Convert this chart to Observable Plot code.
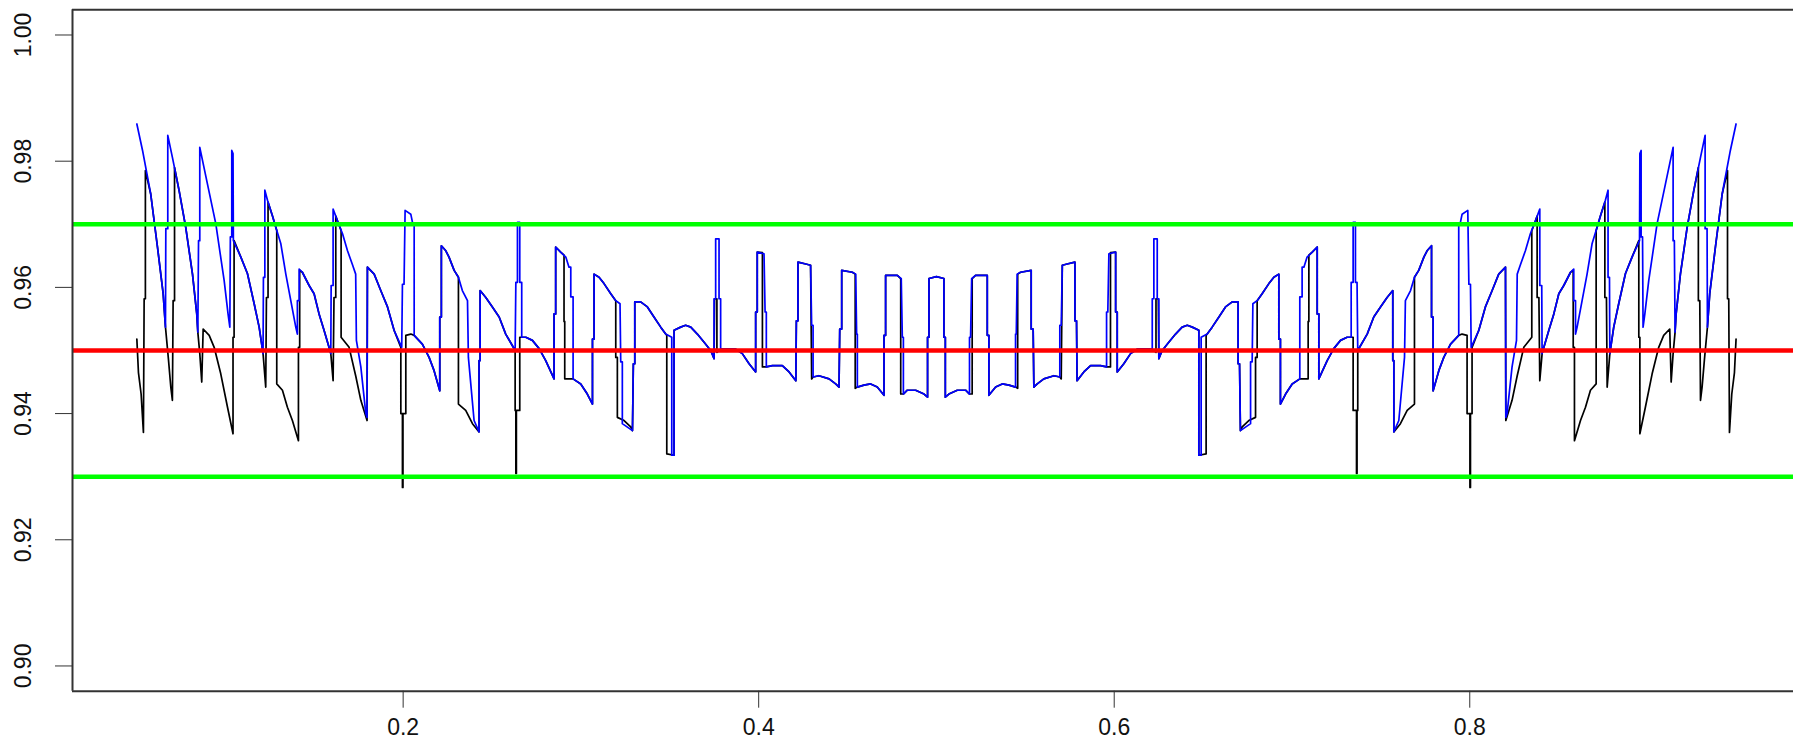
<!DOCTYPE html>
<html><head><meta charset="utf-8">
<script src="https://cdn.jsdelivr.net/npm/d3@7"></script>
<script src="https://cdn.jsdelivr.net/npm/@observablehq/plot@0.6"></script>
<style>html,body{margin:0;padding:0;background:#fff;overflow:hidden}</style>
</head><body><div id="chart"></div>
<script>
// blue series: probability p and coverage value
const blueP = [
0.0502,0.0534,0.0580,0.0618,0.0650,0.0663,0.0665,0.0676,0.0676,0.0702,
0.0740,0.0777,0.0815,0.0839,0.0845,0.0849,0.0856,0.0856,0.0899,0.0946,
0.0993,0.1015,0.1025,0.1028,0.1036,0.1036,0.1043,0.1045,0.1087,0.1124,
0.1162,0.1190,0.1212,0.1214,0.1222,0.1222,0.1237,0.1265,0.1284,0.1312,
0.1340,0.1368,0.1396,0.1405,0.1405,0.1415,0.1415,0.1433,0.1471,0.1499,
0.1527,0.1555,0.1583,0.1593,0.1595,0.1606,0.1606,0.1630,0.1659,0.1687,
0.1715,0.1733,0.1737,0.1762,0.1790,0.1797,0.1799,0.1837,0.1874,0.1912,
0.1949,0.1992,0.1996,0.2005,0.2011,0.2043,0.2054,0.2062,0.2062,0.2108,
0.2146,0.2174,0.2206,0.2206,0.2215,0.2215,0.2240,0.2258,0.2287,0.2311,
0.2333,0.2362,0.2367,0.2399,0.2427,0.2427,0.2433,0.2433,0.2465,0.2502,
0.2540,0.2577,0.2630,0.2634,0.2643,0.2643,0.2656,0.2656,0.2667,0.2667,
0.2690,0.2727,0.2765,0.2802,0.2849,0.2849,0.2858,0.2858,0.2886,0.2915,
0.2933,0.2943,0.2943,0.2956,0.2956,0.2999,0.3036,0.3065,0.3065,0.3074,
0.3074,0.3102,0.3130,0.3168,0.3196,0.3220,0.3224,0.3233,0.3233,0.3290,
0.3295,0.3303,0.3303,0.3336,0.3374,0.3411,0.3449,0.3477,0.3511,0.3511,
0.3524,0.3524,0.3561,0.3589,0.3618,0.3655,0.3693,0.3730,0.3749,0.3749,
0.3758,0.3758,0.3777,0.3777,0.3786,0.3786,0.3871,0.3908,0.3946,0.3983,
0.3983,0.3992,0.3992,0.4030,0.4036,0.4043,0.4043,0.4077,0.4133,0.4171,
0.4209,0.4212,0.4221,0.4221,0.4265,0.4292,0.4298,0.4306,0.4306,0.4339,
0.4396,0.4433,0.4452,0.4456,0.4467,0.4467,0.4527,0.4546,0.4551,0.4555,
0.4555,0.4592,0.4630,0.4667,0.4705,0.4705,0.4714,0.4714,0.4780,0.4802,
0.4808,0.4814,0.4814,0.4836,0.4883,0.4930,0.4950,0.4950,0.4958,0.4958,
0.5000,
0.5042,0.5042,0.5050,0.5050,0.5070,0.5117,0.5164,0.5186,0.5186,0.5192,
0.5198,0.5220,0.5286,0.5286,0.5295,0.5295,0.5333,0.5370,0.5408,0.5445,
0.5445,0.5449,0.5454,0.5473,0.5533,0.5533,0.5544,0.5548,0.5567,0.5604,
0.5661,0.5694,0.5694,0.5702,0.5708,0.5735,0.5779,0.5779,0.5788,0.5791,
0.5829,0.5867,0.5923,0.5957,0.5957,0.5964,0.5970,0.6008,0.6008,0.6017,
0.6017,0.6054,0.6092,0.6129,0.6214,0.6214,0.6223,0.6223,0.6242,0.6242,
0.6251,0.6251,0.6270,0.6307,0.6345,0.6382,0.6411,0.6439,0.6476,0.6476,
0.6489,0.6489,0.6523,0.6551,0.6589,0.6626,0.6664,0.6697,0.6697,0.6705,
0.6710,0.6767,0.6767,0.6776,0.6780,0.6804,0.6832,0.6870,0.6898,0.6926,
0.6926,0.6935,0.6935,0.6964,0.7001,0.7044,0.7044,0.7057,0.7057,0.7067,
0.7085,0.7114,0.7142,0.7142,0.7151,0.7151,0.7198,0.7235,0.7273,0.7310,
0.7333,0.7333,0.7344,0.7344,0.7357,0.7357,0.7366,0.7370,0.7423,0.7460,
0.7498,0.7535,0.7567,0.7567,0.7573,0.7573,0.7601,0.7633,0.7638,0.7667,
0.7689,0.7713,0.7742,0.7760,0.7785,0.7785,0.7794,0.7794,0.7826,0.7854,
0.7892,0.7938,0.7938,0.7946,0.7957,0.7989,0.7995,0.8004,0.8008,0.8051,
0.8088,0.8126,0.8163,0.8201,0.8203,0.8210,0.8238,0.8263,0.8267,0.8285,
0.8313,0.8341,0.8370,0.8394,0.8394,0.8405,0.8407,0.8417,0.8445,0.8473,
0.8501,0.8529,0.8567,0.8585,0.8585,0.8595,0.8595,0.8604,0.8632,0.8660,
0.8688,0.8716,0.8735,0.8763,0.8778,0.8778,0.8786,0.8788,0.8810,0.8838,
0.8876,0.8913,0.8955,0.8957,0.8964,0.8964,0.8972,0.8975,0.8985,0.9007,
0.9054,0.9101,0.9144,0.9144,0.9151,0.9155,0.9161,0.9185,0.9223,0.9260,
0.9298,0.9324,0.9324,0.9335,0.9337,0.9350,0.9382,0.9420,0.9466,0.9498];
const blueV = [
0.9859,0.9817,0.9748,0.9664,0.9590,0.9537,0.9693,0.9693,0.9841,0.9806,
0.9753,0.9695,0.9621,0.9558,0.9529,0.9674,0.9674,0.9822,0.9764,0.9701,
0.9611,0.9558,0.9537,0.9680,0.9680,0.9817,0.9812,0.9674,0.9648,0.9622,
0.9574,0.9537,0.9495,0.9616,0.9616,0.9754,0.9738,0.9713,0.9695,0.9669,
0.9621,0.9579,0.9537,0.9526,0.9579,0.9579,0.9629,0.9624,0.9603,0.9590,
0.9558,0.9532,0.9505,0.9495,0.9603,0.9603,0.9724,0.9706,0.9685,0.9658,
0.9636,0.9621,0.9516,0.9474,0.9400,0.9394,0.9632,0.9621,0.9595,0.9569,
0.9532,0.9505,0.9605,0.9605,0.9722,0.9716,0.9701,0.9701,0.9524,0.9510,
0.9489,0.9468,0.9436,0.9553,0.9553,0.9666,0.9658,0.9648,0.9627,0.9616,
0.9595,0.9579,0.9489,0.9389,0.9371,0.9484,0.9484,0.9595,0.9584,0.9569,
0.9553,0.9526,0.9500,0.9608,0.9608,0.9703,0.9703,0.9608,0.9608,0.9521,
0.9521,0.9516,0.9503,0.9484,0.9455,0.9558,0.9558,0.9664,0.9656,0.9648,
0.9632,0.9632,0.9585,0.9585,0.9455,0.9447,0.9431,0.9415,0.9518,0.9518,
0.9621,0.9616,0.9606,0.9590,0.9579,0.9574,0.9482,0.9482,0.9384,0.9373,
0.9479,0.9479,0.9577,0.9577,0.9569,0.9553,0.9537,0.9526,0.9521,0.9334,
0.9334,0.9532,0.9537,0.9540,0.9537,0.9526,0.9513,0.9500,0.9487,0.9582,
0.9582,0.9677,0.9677,0.9582,0.9582,0.9502,0.9502,0.9495,0.9479,0.9466,
0.9561,0.9561,0.9656,0.9653,0.9561,0.9561,0.9474,0.9476,0.9476,0.9466,
0.9452,0.9547,0.9547,0.9640,0.9637,0.9635,0.9540,0.9540,0.9458,0.9460,
0.9455,0.9447,0.9442,0.9534,0.9534,0.9627,0.9624,0.9621,0.9526,0.9526,
0.9442,0.9445,0.9447,0.9442,0.9429,0.9524,0.9524,0.9619,0.9619,0.9614,
0.9521,0.9521,0.9431,0.9437,0.9437,0.9431,0.9426,0.9521,0.9521,0.9614,
0.9617,
0.9614,0.9521,0.9521,0.9426,0.9431,0.9437,0.9437,0.9431,0.9521,0.9521,
0.9614,0.9619,0.9619,0.9524,0.9524,0.9429,0.9442,0.9447,0.9445,0.9442,
0.9526,0.9526,0.9621,0.9624,0.9627,0.9534,0.9534,0.9442,0.9447,0.9455,
0.9460,0.9458,0.9540,0.9540,0.9635,0.9637,0.9640,0.9547,0.9547,0.9452,
0.9466,0.9476,0.9476,0.9474,0.9561,0.9561,0.9653,0.9656,0.9561,0.9561,
0.9466,0.9479,0.9495,0.9502,0.9502,0.9582,0.9582,0.9677,0.9677,0.9582,
0.9582,0.9487,0.9500,0.9513,0.9526,0.9537,0.9540,0.9537,0.9532,0.9334,
0.9334,0.9521,0.9526,0.9537,0.9553,0.9569,0.9577,0.9577,0.9479,0.9479,
0.9373,0.9384,0.9482,0.9482,0.9574,0.9579,0.9590,0.9606,0.9616,0.9621,
0.9518,0.9518,0.9415,0.9431,0.9447,0.9455,0.9585,0.9585,0.9632,0.9632,
0.9648,0.9656,0.9664,0.9558,0.9558,0.9455,0.9484,0.9503,0.9516,0.9521,
0.9521,0.9608,0.9608,0.9703,0.9703,0.9608,0.9608,0.9500,0.9526,0.9553,
0.9569,0.9584,0.9595,0.9484,0.9484,0.9371,0.9389,0.9489,0.9579,0.9595,
0.9616,0.9627,0.9648,0.9658,0.9666,0.9553,0.9553,0.9436,0.9468,0.9489,
0.9510,0.9524,0.9701,0.9701,0.9716,0.9722,0.9605,0.9605,0.9505,0.9532,
0.9569,0.9595,0.9621,0.9632,0.9394,0.9400,0.9474,0.9516,0.9621,0.9636,
0.9658,0.9685,0.9706,0.9724,0.9603,0.9603,0.9495,0.9505,0.9532,0.9558,
0.9590,0.9603,0.9624,0.9629,0.9579,0.9579,0.9526,0.9537,0.9579,0.9621,
0.9669,0.9695,0.9713,0.9738,0.9754,0.9616,0.9616,0.9495,0.9537,0.9574,
0.9622,0.9648,0.9674,0.9812,0.9817,0.9680,0.9680,0.9537,0.9558,0.9611,
0.9701,0.9764,0.9822,0.9674,0.9674,0.9529,0.9558,0.9621,0.9695,0.9753,
0.9806,0.9841,0.9693,0.9693,0.9537,0.9590,0.9664,0.9748,0.9817,0.9859];

// black series
const blackP = [
0.0502,0.0511,0.0526,0.0539,0.0543,0.0550,0.0550,0.0580,0.0618,0.0650,
0.0663,0.0680,0.0693,0.0702,0.0706,0.0714,0.0714,0.0740,0.0777,0.0815,
0.0839,0.0845,0.0856,0.0867,0.0875,0.0909,0.0937,0.0974,0.1012,0.1043,
0.1043,0.1049,0.1049,0.1087,0.1124,0.1162,0.1190,0.1212,0.1227,0.1231,
0.1240,0.1240,0.1265,0.1284,0.1289,0.1289,0.1321,0.1349,0.1377,0.1411,
0.1411,0.1418,0.1418,0.1433,0.1471,0.1499,0.1527,0.1555,0.1583,0.1593,
0.1606,0.1611,0.1621,0.1621,0.1630,0.1651,0.1651,0.1696,0.1733,0.1762,
0.1797,0.1799,0.1837,0.1874,0.1912,0.1949,0.1987,0.1987,0.1996,0.1996,
0.1999,0.1999,0.2015,0.2015,0.2043,0.2062,0.2108,0.2146,0.2174,0.2206,
0.2206,0.2215,0.2215,0.2240,0.2258,0.2287,0.2311,0.2311,0.2352,0.2390,
0.2427,0.2427,0.2433,0.2433,0.2465,0.2502,0.2540,0.2577,0.2630,0.2630,
0.2634,0.2634,0.2637,0.2637,0.2656,0.2656,0.2690,0.2727,0.2765,0.2802,
0.2849,0.2849,0.2858,0.2858,0.2886,0.2905,0.2905,0.2909,0.2909,0.2956,
0.2999,0.3036,0.3065,0.3065,0.3074,0.3074,0.3102,0.3130,0.3168,0.3196,
0.3196,0.3205,0.3205,0.3243,0.3280,0.3290,0.3295,0.3303,0.3303,0.3336,
0.3374,0.3411,0.3449,0.3477,0.3483,0.3483,0.3524,0.3524,0.3561,0.3589,
0.3618,0.3655,0.3693,0.3730,0.3749,0.3752,0.3765,0.3765,0.3786,0.3871,
0.3908,0.3946,0.3983,0.3983,0.3992,0.3992,0.4021,0.4021,0.4043,0.4077,
0.4133,0.4171,0.4209,0.4212,0.4221,0.4221,0.4265,0.4292,0.4298,0.4306,
0.4339,0.4396,0.4433,0.4452,0.4456,0.4467,0.4467,0.4527,0.4543,0.4543,
0.4555,0.4592,0.4630,0.4667,0.4705,0.4705,0.4714,0.4714,0.4780,0.4799,
0.4799,0.4814,0.4836,0.4883,0.4930,0.4950,0.4950,0.4958,0.4958,0.5000,
0.5042,0.5042,0.5050,0.5050,0.5070,0.5117,0.5164,0.5186,0.5201,0.5201,
0.5220,0.5286,0.5286,0.5295,0.5295,0.5333,0.5370,0.5408,0.5445,0.5457,
0.5457,0.5473,0.5533,0.5533,0.5544,0.5548,0.5567,0.5604,0.5661,0.5694,
0.5702,0.5708,0.5735,0.5779,0.5779,0.5788,0.5791,0.5829,0.5867,0.5923,
0.5957,0.5979,0.5979,0.6008,0.6008,0.6017,0.6017,0.6054,0.6092,0.6129,
0.6214,0.6235,0.6235,0.6248,0.6251,0.6270,0.6307,0.6345,0.6382,0.6411,
0.6439,0.6476,0.6476,0.6517,0.6517,0.6523,0.6551,0.6589,0.6626,0.6664,
0.6697,0.6697,0.6705,0.6710,0.6720,0.6757,0.6795,0.6795,0.6804,0.6804,
0.6832,0.6870,0.6898,0.6926,0.6926,0.6935,0.6935,0.6964,0.7001,0.7044,
0.7091,0.7091,0.7095,0.7095,0.7114,0.7142,0.7142,0.7151,0.7151,0.7198,
0.7235,0.7273,0.7310,0.7344,0.7344,0.7363,0.7363,0.7366,0.7366,0.7370,
0.7370,0.7423,0.7460,0.7498,0.7535,0.7567,0.7567,0.7573,0.7573,0.7610,
0.7648,0.7689,0.7689,0.7713,0.7742,0.7760,0.7785,0.7785,0.7794,0.7794,
0.7826,0.7854,0.7892,0.7938,0.7957,0.7985,0.7985,0.8001,0.8001,0.8004,
0.8004,0.8013,0.8013,0.8051,0.8088,0.8126,0.8163,0.8201,0.8203,0.8238,
0.8267,0.8304,0.8349,0.8349,0.8370,0.8379,0.8379,0.8389,0.8394,0.8407,
0.8417,0.8445,0.8473,0.8501,0.8529,0.8567,0.8582,0.8582,0.8589,0.8589,
0.8623,0.8651,0.8679,0.8711,0.8711,0.8716,0.8735,0.8760,0.8760,0.8769,
0.8773,0.8788,0.8810,0.8838,0.8876,0.8913,0.8951,0.8951,0.8957,0.8957,
0.8988,0.9026,0.9063,0.9091,0.9125,0.9133,0.9144,0.9155,0.9161,0.9185,
0.9223,0.9260,0.9286,0.9286,0.9294,0.9298,0.9307,0.9320,0.9337,0.9350,
0.9382,0.9420,0.9450,0.9450,0.9457,0.9461,0.9474,0.9489,0.9498];
const blackV = [
0.9518,0.9465,0.9431,0.9370,0.9582,0.9582,0.9785,0.9748,0.9664,0.9590,
0.9537,0.9485,0.9442,0.9421,0.9579,0.9579,0.9790,0.9753,0.9695,0.9621,
0.9558,0.9529,0.9495,0.9450,0.9534,0.9524,0.9505,0.9463,0.9410,0.9368,
0.9521,0.9521,0.9674,0.9648,0.9622,0.9574,0.9537,0.9495,0.9442,0.9584,
0.9584,0.9735,0.9713,0.9695,0.9690,0.9447,0.9437,0.9410,0.9389,0.9357,
0.9505,0.9505,0.9627,0.9624,0.9603,0.9590,0.9558,0.9532,0.9505,0.9495,
0.9452,0.9584,0.9584,0.9713,0.9706,0.9690,0.9521,0.9505,0.9460,0.9421,
0.9389,0.9632,0.9621,0.9595,0.9569,0.9532,0.9505,0.9400,0.9400,0.9283,
0.9283,0.9400,0.9400,0.9524,0.9526,0.9524,0.9510,0.9489,0.9468,0.9436,
0.9553,0.9553,0.9666,0.9658,0.9648,0.9627,0.9616,0.9415,0.9405,0.9384,
0.9371,0.9484,0.9484,0.9595,0.9584,0.9569,0.9553,0.9526,0.9500,0.9405,
0.9405,0.9305,0.9305,0.9405,0.9405,0.9521,0.9521,0.9516,0.9503,0.9484,
0.9455,0.9558,0.9558,0.9664,0.9656,0.9651,0.9546,0.9546,0.9455,0.9455,
0.9447,0.9431,0.9415,0.9518,0.9518,0.9621,0.9616,0.9606,0.9590,0.9579,
0.9489,0.9489,0.9394,0.9389,0.9379,0.9373,0.9479,0.9479,0.9577,0.9577,
0.9569,0.9553,0.9537,0.9526,0.9524,0.9336,0.9334,0.9532,0.9537,0.9540,
0.9537,0.9526,0.9513,0.9500,0.9487,0.9582,0.9582,0.9497,0.9502,0.9502,
0.9495,0.9479,0.9466,0.9561,0.9561,0.9656,0.9655,0.9474,0.9474,0.9476,
0.9476,0.9466,0.9452,0.9547,0.9547,0.9640,0.9637,0.9635,0.9455,0.9458,
0.9460,0.9455,0.9447,0.9442,0.9534,0.9534,0.9627,0.9624,0.9621,0.9440,
0.9442,0.9445,0.9447,0.9442,0.9429,0.9524,0.9524,0.9619,0.9619,0.9614,
0.9431,0.9431,0.9437,0.9437,0.9431,0.9426,0.9521,0.9521,0.9614,0.9617,
0.9614,0.9521,0.9521,0.9426,0.9431,0.9437,0.9437,0.9431,0.9431,0.9614,
0.9619,0.9619,0.9524,0.9524,0.9429,0.9442,0.9447,0.9445,0.9442,0.9440,
0.9621,0.9624,0.9627,0.9534,0.9534,0.9442,0.9447,0.9455,0.9460,0.9458,
0.9455,0.9635,0.9637,0.9640,0.9547,0.9547,0.9452,0.9466,0.9476,0.9476,
0.9474,0.9474,0.9655,0.9656,0.9561,0.9561,0.9466,0.9479,0.9495,0.9502,
0.9502,0.9497,0.9582,0.9582,0.9487,0.9500,0.9513,0.9526,0.9537,0.9540,
0.9537,0.9532,0.9334,0.9336,0.9524,0.9526,0.9537,0.9553,0.9569,0.9577,
0.9577,0.9479,0.9479,0.9373,0.9379,0.9389,0.9394,0.9489,0.9489,0.9579,
0.9590,0.9606,0.9616,0.9621,0.9518,0.9518,0.9415,0.9431,0.9447,0.9455,
0.9455,0.9546,0.9546,0.9651,0.9656,0.9664,0.9558,0.9558,0.9455,0.9484,
0.9503,0.9516,0.9521,0.9521,0.9405,0.9405,0.9305,0.9305,0.9405,0.9405,
0.9500,0.9526,0.9553,0.9569,0.9584,0.9595,0.9484,0.9484,0.9371,0.9384,
0.9405,0.9415,0.9616,0.9627,0.9648,0.9658,0.9666,0.9553,0.9553,0.9436,
0.9468,0.9489,0.9510,0.9524,0.9526,0.9524,0.9400,0.9400,0.9283,0.9283,
0.9400,0.9400,0.9505,0.9532,0.9569,0.9595,0.9621,0.9632,0.9389,0.9421,
0.9460,0.9505,0.9521,0.9690,0.9706,0.9713,0.9584,0.9584,0.9452,0.9495,
0.9505,0.9532,0.9558,0.9590,0.9603,0.9624,0.9627,0.9505,0.9505,0.9357,
0.9389,0.9410,0.9437,0.9447,0.9690,0.9695,0.9713,0.9735,0.9584,0.9584,
0.9442,0.9495,0.9537,0.9574,0.9622,0.9648,0.9674,0.9521,0.9521,0.9368,
0.9410,0.9463,0.9505,0.9524,0.9534,0.9450,0.9495,0.9529,0.9558,0.9621,
0.9695,0.9753,0.9790,0.9579,0.9579,0.9421,0.9442,0.9485,0.9537,0.9590,
0.9664,0.9748,0.9785,0.9582,0.9582,0.9370,0.9431,0.9465,0.9518];

const xTicks = [0.2, 0.4, 0.6, 0.8];
const xTickLabels = ["0.2", "0.4", "0.6", "0.8"];
const yTicks = [0.90, 0.92, 0.94, 0.96, 0.98, 1.00];
const yTickLabels = ["0.90", "0.92", "0.94", "0.96", "0.98", "1.00"];
const redLevel = [0.95];
const greenLevels = [0.93, 0.97];

const xDomain = [0.014, 0.98212];
const yDomain = [0.896, 1.004];

const blue = blueP.map((p, i) => ({p, v: blueV[i]}));
const black = blackP.map((p, i) => ({p, v: blackV[i]}));

const axisColor = "#333";
const chart = Plot.plot({
  width: 1793,
  height: 754,
  marginLeft: 72,
  marginRight: 0,
  marginTop: 9.26,
  marginBottom: 63.3,
  style: {background: "#fff", fontFamily: "'Liberation Sans', Arial, sans-serif", fontSize: "23px", overflow: "visible"},
  x: {domain: xDomain, axis: null},
  y: {domain: yDomain, axis: null},
  marks: [
    Plot.line(black, {x: "p", y: "v", stroke: "#000", strokeWidth: 1.7, strokeLinejoin: "round", curve: "linear"}),
    Plot.line(blue, {x: "p", y: "v", stroke: "#0000ff", strokeWidth: 1.7, strokeLinejoin: "round", curve: "linear"}),
    Plot.ruleY(redLevel, {y: d => d, stroke: "#ff0000", strokeWidth: 4.5}),
    Plot.ruleY(greenLevels, {y: d => d, stroke: "#00ff00", strokeWidth: 4.5}),
    // box: left, bottom, top
    Plot.ruleX([xDomain[0]], {x: d => d, stroke: axisColor, strokeWidth: 2}),
    Plot.ruleY([yDomain[0], yDomain[1]], {y: d => d, stroke: axisColor, strokeWidth: 2}),
    Plot.axisX(xTicks, {anchor: "bottom", label: null, tickSize: 17, tickPadding: 10, tickFormat: (d, i) => xTickLabels[i], stroke: axisColor, fill: "#111", fontSize: 23}),
    Plot.axisY(yTicks, {anchor: "left", label: null, tickSize: 17, tickFormat: () => "", stroke: axisColor}),
    Plot.text(yTicks, {y: d => d, text: (d, i) => yTickLabels[i], frameAnchor: "left", dx: -49, rotate: -90, textAnchor: "middle", lineAnchor: "middle", fill: "#111", fontSize: 23})
  ]
});
document.getElementById("chart").appendChild(chart);
</script>
</body></html>
